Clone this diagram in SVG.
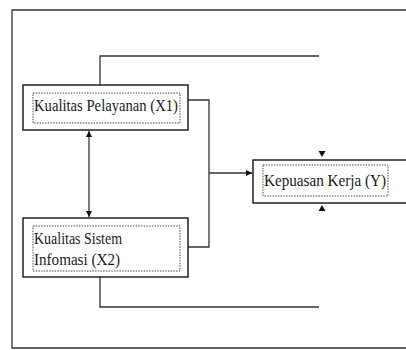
<svg xmlns="http://www.w3.org/2000/svg" width="406" height="350" viewBox="0 0 406 350">
<defs>
<marker id="ah" viewBox="0 0 8 8" refX="8" refY="4" markerWidth="6" markerHeight="6" orient="auto-start-reverse" markerUnits="userSpaceOnUse">
<path d="M0,0 L8,4 L0,8 Z" fill="#111"/>
</marker>
<style>
.ln{fill:none;stroke:#333;stroke-width:1.3}
.box{fill:#fff;stroke:#222;stroke-width:1.5}
.dot{fill:none;stroke:#333;stroke-width:0.9;stroke-dasharray:1.5 1.2}
.t{font-family:"Liberation Serif","Times New Roman",serif;font-size:16.5px;fill:#1a1a1a}
</style>
</defs>
<rect width="406" height="350" fill="#fff"/>
<g id="frame">
<path class="ln" d="M406,10 H12 V348 H406" stroke="#555"/>
</g>
<g id="connectors">
<path class="ln" d="M100,85 V56 H319"/>
<path class="ln" d="M100,277 V307 H319"/>
<path class="ln" d="M188,100 H209 V247 H188"/>
<path class="ln" d="M209,173 H252" marker-end="url(#ah)"/>
<path class="ln" d="M89,131 V217" marker-start="url(#ah)" marker-end="url(#ah)"/>
<path d="M318.5,151 L325.5,151 L322,157 Z" fill="#111"/>
<path d="M318.5,211 L325.5,211 L322,205 Z" fill="#111"/>
</g>
<g id="x1">
<rect class="box" x="23" y="85" width="165" height="45"/>
<rect class="dot" x="33" y="93" width="147" height="30"/>
<text class="t" x="34" y="111" textLength="144" lengthAdjust="spacingAndGlyphs">Kualitas Pelayanan (X1)</text>
</g>
<g id="x2">
<rect class="box" x="23" y="218" width="165" height="59"/>
<rect class="dot" x="33" y="226" width="147" height="45"/>
<text class="t" x="34" y="244" textLength="88" lengthAdjust="spacingAndGlyphs">Kualitas Sistem</text>
<text class="t" x="34" y="265" textLength="86" lengthAdjust="spacingAndGlyphs">Infomasi (X2)</text>
</g>
<g id="y">
<path class="box" d="M406,160 H253 V203 H406"/>
<rect class="dot" x="263" y="165" width="125" height="31"/>
<text class="t" x="264" y="186" textLength="122" lengthAdjust="spacingAndGlyphs">Kepuasan Kerja (Y)</text>
</g>
</svg>
